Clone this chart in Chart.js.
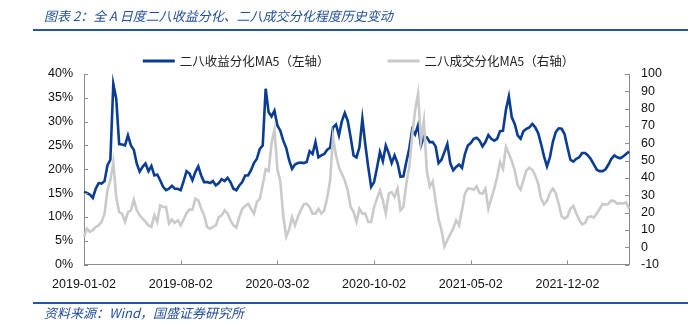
<!DOCTYPE html>
<html>
<head>
<meta charset="utf-8">
<script src="https://cdn.jsdelivr.net/npm/chart.js@4.4.1/dist/chart.umd.min.js"></script>
<style>
    html, body { margin: 0; padding: 0; background: #fff; }
    #wrap { position: relative; width: 688px; height: 325px; overflow: hidden; background: #fff; }
    #chart { position: absolute; left: 0; top: 0; }
    #title { position: absolute; left: 44px; top: 6px; font: italic 13px "Noto Sans CJK SC", sans-serif; color: #1f4e9c; white-space: nowrap; }
    #source { position: absolute; left: 44px; top: 303px; font: italic 13px "Noto Sans CJK SC", sans-serif; color: #1f4e9c; white-space: nowrap; }
    .rule { position: absolute; left: 33px; width: 655px; height: 2px; background: #2458a6; }
</style>
</head>
<body>
<div id="wrap">
    <canvas id="chart" width="688" height="325"></canvas>
    <div id="title">图表 2：全 A 日度二八收益分化、二八成交分化程度历史变动</div>
    <div class="rule" style="top:29px"></div>
    <div class="rule" style="top:302px"></div>
    <div id="source">资料来源：Wind，国盛证券研究所</div>
</div>
<script>
// 刻度日期（每 33 个点一个）
const tickDates = ["2019-01-02", "2019-08-02", "2020-03-02", "2020-10-02", "2021-05-02", "2021-12-02"];
const tickEvery = 33;

const returnLabel = "二八收益分化MA5（左轴）";
const volumeLabel = "二八成交分化MA5（右轴）";

// 二八收益分化 MA5，单位 %
const returnSpread = [
    15.2, 15.0, 14.7, 14.0, 15.9, 17.1, 17.0, 17.5, 20.8, 22.0,
    37.9, 34.8, 25.3, 25.2, 25.0, 27.1, 25.0, 24.1, 21.2, 19.5,
    20.5, 21.2, 19.6, 20.7, 18.7, 18.9, 17.7, 16.3, 15.6, 15.9,
    16.5, 15.9, 15.9, 15.6, 17.5, 19.6, 19.1, 17.7, 19.4, 20.6,
    18.7, 17.3, 17.3, 17.1, 17.5, 16.6, 17.1, 17.9, 17.5, 18.2,
    17.3, 15.9, 15.6, 16.6, 17.3, 18.7, 18.7, 19.8, 21.3, 22.2,
    24.3, 25.0, 36.9, 32.0, 31.1, 32.3, 29.2, 28.1, 26.0, 24.5,
    21.9, 20.1, 21.0, 21.3, 21.4, 21.3, 21.5, 23.8, 23.2, 25.7,
    22.5, 22.9, 23.2, 24.1, 24.5, 28.8, 29.4, 27.1, 30.1, 31.8,
    30.2, 26.7, 22.9, 22.5, 24.6, 30.6, 25.2, 20.5, 16.3, 17.3,
    20.3, 23.6, 21.7, 25.0, 23.4, 21.3, 22.9, 21.3, 18.4, 18.5,
    21.5, 24.3, 28.3, 27.3, 29.2, 25.0, 26.9, 26.7, 25.7, 25.7,
    24.8, 21.3, 22.0, 23.6, 25.3, 21.3, 19.8, 20.5, 21.0, 20.3,
    23.2, 25.0, 25.5, 26.4, 26.6, 26.0, 24.8, 25.7, 27.2, 26.4,
    26.0, 26.4, 28.0, 28.1, 32.5, 35.3, 30.9, 29.5, 27.1, 26.4,
    28.0, 28.5, 28.8, 29.5, 28.8, 27.6, 25.3, 22.7, 20.6, 22.5,
    25.7, 27.8, 28.6, 28.5, 27.4, 24.6, 22.0, 21.6, 22.2, 22.5,
    23.4, 23.4, 22.9, 22.1, 21.0, 19.9, 19.6, 19.6, 20.0, 21.0,
    22.2, 22.9, 22.5, 22.3, 22.7, 23.2, 23.7
];

// 二八成交分化 MA5（右轴）
const volumeSpread = [
    5.9, 10.7, 8.8, 9.8, 11.7, 12.6, 14.6, 19.4, 32.8, 38.6,
    49.1, 29.0, 20.3, 19.4, 14.6, 20.3, 21.3, 27.4, 21.3, 18.4,
    16.5, 14.6, 12.6, 11.7, 18.4, 14.6, 24.2, 23.2, 23.2, 13.6,
    15.9, 14.0, 15.5, 12.6, 15.9, 19.7, 21.7, 21.7, 28.0, 27.0,
    22.2, 18.4, 11.7, 10.7, 11.7, 12.6, 17.4, 18.4, 21.3, 19.4,
    15.5, 12.6, 11.3, 17.4, 22.2, 23.6, 25.1, 22.2, 19.4, 26.1,
    28.0, 36.0, 45.0, 44.0, 60.0, 68.0, 45.0, 38.0, 18.0, 6.0,
    10.0, 17.4, 12.6, 17.4, 21.3, 24.7, 25.1, 23.2, 19.4, 19.4,
    22.2, 19.4, 21.3, 28.6, 38.6, 63.5, 53.0, 46.2, 42.4, 38.6,
    32.8, 23.2, 20.3, 14.6, 22.2, 19.4, 19.4, 14.6, 14.6, 23.2,
    28.0, 32.8, 27.0, 19.4, 30.9, 31.8, 29.0, 33.8, 21.3, 23.2,
    36.6, 46.2, 64.5, 78.9, 88.5, 61.6, 73.1, 44.0, 35.0, 38.0,
    27.0, 16.0, 10.0, 0.5, 4.0, 7.5, 10.7, 15.5, 12.6, 21.3,
    30.9, 33.8, 33.8, 33.2, 35.1, 31.3, 30.9, 33.8, 22.2, 28.0,
    33.8, 40.5, 49.1, 45.3, 57.8, 53.9, 49.7, 44.3, 35.7, 33.2,
    38.9, 44.3, 45.9, 44.7, 41.4, 36.6, 28.0, 24.7, 26.7, 31.3,
    33.8, 31.3, 25.1, 17.8, 16.5, 17.8, 22.2, 23.8, 19.4, 15.9,
    13.2, 14.0, 17.4, 17.8, 17.1, 19.4, 22.2, 25.1, 24.5, 25.1,
    27.0, 26.5, 25.1, 25.5, 25.1, 25.9, 22.2
];

const xLabels = returnSpread.map((v, i) => i % tickEvery === 0 ? (tickDates[i / tickEvery] || "") : "");

const tickFont = { family: "Liberation Sans", size: 12.5 };

// 自画图例
const lineLegend = {
    id: "lineLegend",
    afterDraw(chart) {
        const ctx = chart.ctx;
        const sets = chart.data.datasets;
        const sw = 32, gap = 5, between = 58, y = 61;
        ctx.save();
        ctx.font = '12.5px "Noto Sans CJK SC"';
        const widths = sets.map(d => ctx.measureText(d.label).width);
        const total = widths.reduce((a, w) => a + sw + gap + w, 0) + between * (sets.length - 1);
        let x = (chart.chartArea.left + chart.chartArea.right) / 2 - total / 2 + 2;
        sets.forEach((d, i) => {
            ctx.fillStyle = d.borderColor;
            ctx.fillRect(x, y - 1.5, sw, 3);
            ctx.fillStyle = "#222";
            ctx.textBaseline = "middle";
            ctx.fillText(d.label, x + sw + gap, y);
            x += sw + gap + widths[i] + between;
        });
        ctx.restore();
    }
};

// 向内的小刻度
const innerTicks = {
    id: "innerTicks",
    afterDatasetsDraw(chart) {
        const { ctx, chartArea: a, scales } = chart;
        ctx.save();
        ctx.strokeStyle = "#8c8c8c";
        ctx.lineWidth = 1;
        ctx.beginPath();
        scales.yL.ticks.forEach((t, i) => {
            const y = Math.round(scales.yL.getPixelForTick(i)) + 0.5;
            ctx.moveTo(a.left, y); ctx.lineTo(a.left + 4, y);
        });
        scales.yR.ticks.forEach((t, i) => {
            const y = Math.round(scales.yR.getPixelForTick(i)) + 0.5;
            ctx.moveTo(a.right, y); ctx.lineTo(a.right - 4, y);
        });
        scales.x.ticks.forEach((t, i) => {
            if (!xLabels[t.value]) return;
            const x = Math.round(scales.x.getPixelForTick(i)) + 0.5;
            ctx.moveTo(x, a.bottom); ctx.lineTo(x, a.bottom - 4);
        });
        ctx.stroke();
        ctx.restore();
    }
};

new Chart(document.getElementById("chart").getContext("2d"), {
    type: "line",
    data: {
        labels: xLabels,
        datasets: [{
            label: returnLabel,
            data: returnSpread,
            yAxisID: "yL",
            borderColor: "#0a3c94",
            borderWidth: 2.6,
            pointRadius: 0,
            tension: 0,
            order: 1
        }, {
            label: volumeLabel,
            data: volumeSpread,
            yAxisID: "yR",
            borderColor: "#cacaca",
            borderWidth: 2.6,
            pointRadius: 0,
            tension: 0,
            order: 0
        }]
    },
    options: {
        responsive: false,
        animation: false,
        layout: { padding: { top: 74, left: 0, right: 0, bottom: 0 } },
        plugins: { legend: { display: false }, tooltip: { enabled: false } },
        scales: {
            x: {
                grid: { display: false, drawTicks: false },
                border: { display: true, color: "#8c8c8c" },
                ticks: { autoSkip: false, maxRotation: 0, padding: 13, color: "#111", font: tickFont },
                afterFit: s => { s.height = 60.5; }
            },
            yL: {
                position: "left",
                min: 0, max: 40,
                grid: { display: false, drawTicks: false },
                border: { display: true, color: "#8c8c8c" },
                ticks: { stepSize: 5, autoSkip: false, padding: 11, color: "#111", font: tickFont, callback: v => v + "%" },
                afterFit: s => { s.width = 84; }
            },
            yR: {
                position: "right",
                min: -10, max: 100,
                grid: { display: false, drawTicks: false },
                border: { display: true, color: "#8c8c8c" },
                ticks: { stepSize: 10, autoSkip: false, padding: 12, color: "#111", font: tickFont },
                afterFit: s => { s.width = 59; }
            }
        }
    },
    plugins: [lineLegend, innerTicks]
});
</script>
</body>
</html>
